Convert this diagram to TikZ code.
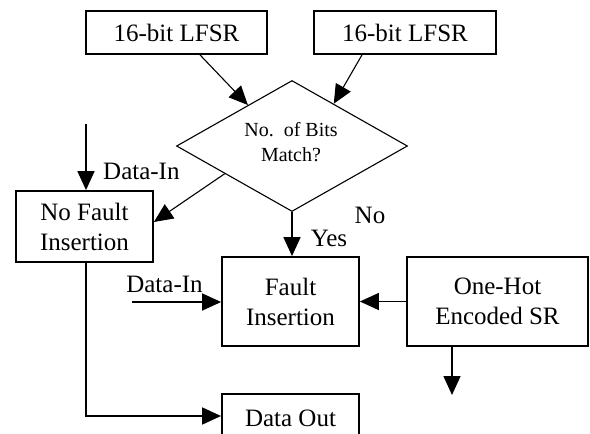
\documentclass[tikz,border=0pt]{standalone}
\usepackage{fontspec}
\setmainfont{Liberation Serif}
\usetikzlibrary{shapes.geometric,arrows.meta,calc}
\begin{document}
\begin{tikzpicture}[x=1pt,y=-1pt,
  box/.style={draw,line width=1.8pt,inner sep=0pt,align=center,
    font=\fontsize{25}{30}\selectfont},
  lbl/.style={inner sep=0pt,font=\fontsize{25}{30}\selectfont},
  flow/.style={line width=1.5pt,-{Triangle[length=19pt,width=17pt]}},
  thinflow/.style={line width=1.1pt,-{Triangle[length=19pt,width=17pt]}},
  ]
\useasboundingbox (0,0) rectangle (590,434);
\fill[white] (0,0) rectangle (590,434);
\clip (0,0) rectangle (590,434);

% blocks
\node[box,minimum width=181pt,minimum height=43pt] (l1) at (176.5,32.5) {16-bit LFSR};
\node[box,minimum width=182pt,minimum height=43pt] (l2) at (405,32.5) {16-bit LFSR};
\node[draw,line width=1.1pt,shape=diamond,aspect=2,inner sep=0pt,
      minimum width=231pt,minimum height=131pt] (d) at (292,146) {};
\node[inner sep=0pt,align=center,font=\fontsize{20}{25}\selectfont] (dt) at (291,142)
  {No.\ \ of Bits\\Match?};
\node[box,minimum width=137pt,minimum height=71pt] (nf) at (84.5,226.5) {No Fault\\Insertion};
\node[box,minimum width=137pt,minimum height=89pt] (fi) at (290.5,301.5) {Fault\\Insertion};
\node[box,minimum width=181pt,minimum height=89pt] (oh) at (497.5,301.5) {One-Hot\\Encoded SR};
\node[box,minimum width=137pt,minimum height=48pt] (do) at (290.5,418) {Data Out};

% free ends
\coordinate (din1) at (86,124);
\coordinate (din2) at (132,302);
\coordinate (ohout) at (452,395);

% connectors
\draw[thinflow] ([xshift=23.5pt]l1.south) -- ($(d.west)!0.62!(d.north)$);
\draw[thinflow] ([xshift=-43pt]l2.south) -- ($(d.north)!0.36!(d.east)$);
\draw[thinflow] ($(d.west)!0.42!(d.south)$) -- ([yshift=4.5pt]nf.east);
\draw[flow] (din1) -- (din1 |- nf.north);
\draw[flow] (d.south) -- (d.south |- fi.north);
\draw[flow] (din2) -- (din2 -| fi.west);
\draw[flow] (oh.west) -- (fi.east);
\draw[flow] ([xshift=-45.5pt]oh.south) -- (ohout);
\draw[flow] ([xshift=1.5pt]nf.south) |- ([yshift=2pt]do.west);

% labels
\node[lbl,anchor=west] (lin1) at (103,171) {Data-In};
\node[lbl] (lin2) at (164.5,284) {Data-In};
\node[lbl] (lno) at (370,215) {No};
\node[lbl] (lyes) at (329,238) {Yes};
\end{tikzpicture}
\end{document}
